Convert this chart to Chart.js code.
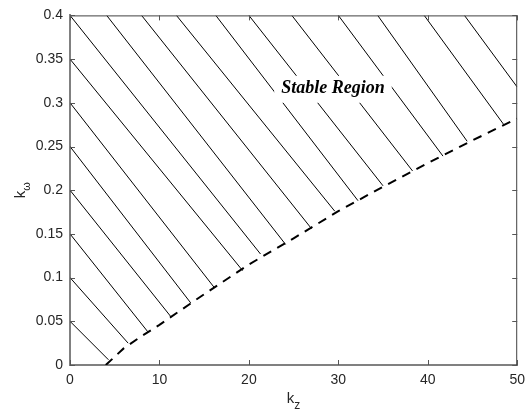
<!DOCTYPE html>
<html>
<head>
<meta charset="utf-8">
<script src="https://cdn.jsdelivr.net/npm/chart.js@4.4.1/dist/chart.umd.min.js"></script>
<style>
  body { margin:0; background:#fff; }
  #c { display:block; }
</style>
</head>
<body>
<canvas id="c" width="532" height="414"></canvas>
<script>
// tick labels
const xTickLabels = ["0","10","20","30","40","50"];
const yTickLabels = ["0","0.05","0.1","0.15","0.2","0.25","0.3","0.35","0.4"];

// stability boundary (dashed)
const boundaryKz = [4, 6, 8, 10, 15, 20, 25, 30, 35, 40, 45, 50];
const boundaryKw = [0, 0.019, 0.033, 0.046, 0.081, 0.115, 0.145, 0.176, 0.204, 0.231, 0.257, 0.282];

// hatch lines: start and end of each stroke
const hatchStartKz = [0,0,0,0,0,0,0,0, 4.1, 8.0, 11.9, 16.3, 20.0, 24.8, 30.0, 34.4, 39.6, 44.1];
const hatchStartKw = [0.05,0.10,0.15,0.20,0.25,0.30,0.35,0.40, 0.4,0.4,0.4,0.4,0.4,0.4,0.4,0.4,0.4,0.4];
const hatchEndKz = [4.3, 6.5, 8.7, 11.3, 13.5, 16.1, 19.3, 21.3, 24.1, 27.0, 29.6, 32.2, 35.0, 38.3, 41.7, 44.4, 48.5, 50];
const hatchEndKw = [0.006, 0.025, 0.038, 0.055, 0.071, 0.089, 0.108, 0.127, 0.138, 0.156, 0.176, 0.188, 0.205, 0.222, 0.239, 0.256, 0.275, 0.318];

const regionLabel = "Stable Region";

const hatchData = [];
for(let i=0;i<hatchStartKz.length;i++){
    hatchData.push({x:hatchStartKz[i], y:hatchStartKw[i]});
    hatchData.push({x:hatchEndKz[i], y:hatchEndKw[i]});
    hatchData.push({x:hatchEndKz[i], y:null});
}
const boundaryData = boundaryKz.map((k,i)=>({x:k, y:boundaryKw[i]}));

const sansFont = "'Liberation Sans', Arial, sans-serif";
const txtColor = "#262626";

// white box + label, inward ticks, box frame, axis titles
const decor = {
    id:"decor",
    afterDatasetsDraw(chart){
        const {ctx, scales:{x,y}} = chart;
        const px = x.getPixelForValue(29.4), py = y.getPixelForValue(0.316);
        ctx.save();
        ctx.font = "bold italic 18px 'Liberation Serif', 'Times New Roman', serif";
        const w = ctx.measureText(regionLabel).width;
        ctx.fillStyle = "#fff";
        ctx.fillRect(px - w/2 - 7, py - 13, w + 14, 27);
        ctx.fillStyle = "#000";
        ctx.textAlign = "center";
        ctx.textBaseline = "middle";
        ctx.fillText(regionLabel, px, py);
        ctx.restore();
    },
    afterDraw(chart){
        const {ctx, chartArea:a, scales:{x,y}} = chart;
        ctx.save();
        // top/right frame
        ctx.strokeStyle = "#404040";
        ctx.lineWidth = 1;
        ctx.beginPath();
        ctx.moveTo(a.left, a.top+0.5); ctx.lineTo(a.right, a.top+0.5);
        ctx.moveTo(a.right-0.5, a.top); ctx.lineTo(a.right-0.5, a.bottom);
        ctx.stroke();
        // inward ticks
        const tl = 5;
        ctx.beginPath();
        for(let v=0; v<=50; v+=10){
            const p = Math.round(x.getPixelForValue(v))+0.5;
            ctx.moveTo(p, a.bottom); ctx.lineTo(p, a.bottom-tl);
            ctx.moveTo(p, a.top); ctx.lineTo(p, a.top+tl);
        }
        for(let i=0; i<=8; i++){
            const p = Math.round(y.getPixelForValue(i*0.05))+0.5;
            ctx.moveTo(a.left, p); ctx.lineTo(a.left+tl, p);
            ctx.moveTo(a.right, p); ctx.lineTo(a.right-tl, p);
        }
        ctx.strokeStyle = "#555";
        ctx.stroke();
        // axis titles with subscripts
        ctx.fillStyle = txtColor;
        ctx.textBaseline = "alphabetic";
        const cx = (a.left+a.right)/2;
        ctx.font = "15px " + sansFont;
        const kw = ctx.measureText("k").width;
        ctx.font = "12px " + sansFont;
        const zw = ctx.measureText("z").width;
        ctx.font = "15px " + sansFont;
        ctx.fillText("k", cx - (kw+zw)/2, 403);
        ctx.font = "12px " + sansFont;
        ctx.fillText("z", cx - (kw+zw)/2 + kw, 409);
        ctx.translate(25, (a.top+a.bottom)/2);
        ctx.rotate(-Math.PI/2);
        ctx.font = "15px " + sansFont;
        ctx.fillText("k", -8, 0);
        ctx.font = "11px " + sansFont;
        ctx.fillText("\u03C9", -8+kw, 5);
        ctx.restore();
    }
};

new Chart(document.getElementById("c"), {
    type:"scatter",
    data:{
        datasets:[
            { label:"hatch", data:hatchData, showLine:true, spanGaps:false, borderColor:"#000", borderWidth:1, pointRadius:0 },
            { label:"boundary", data:boundaryData, showLine:true, borderColor:"#000", borderWidth:2, borderDash:[9,7], pointRadius:0 }
        ]
    },
    options:{
        responsive:false,
        devicePixelRatio:1,
        animation:false,
        layout:{ padding:{ top:13, right:12, left:0, bottom:0 } },
        plugins:{ legend:{display:false}, tooltip:{enabled:false} },
        scales:{
            x:{
                type:"linear", min:0, max:50,
                ticks:{ stepSize:10, color:txtColor, font:{family:sansFont, size:14}, padding:7, maxRotation:0,
                    callback:(v,i)=>xTickLabels[i] },
                grid:{ display:false, drawTicks:false },
                border:{ display:true, color:"#808080", width:2 },
                afterFit(s){ s.height = 49; }
            },
            y:{
                type:"linear", min:0, max:0.4,
                ticks:{ stepSize:0.05, color:txtColor, font:{family:sansFont, size:14}, padding:7,
                    callback:(v,i)=>yTickLabels[i] },
                grid:{ display:false, drawTicks:false },
                border:{ display:true, color:"#808080", width:2 },
                afterFit(s){ s.width = 70; }
            }
        }
    },
    plugins:[decor]
});
</script>
</body>
</html>
